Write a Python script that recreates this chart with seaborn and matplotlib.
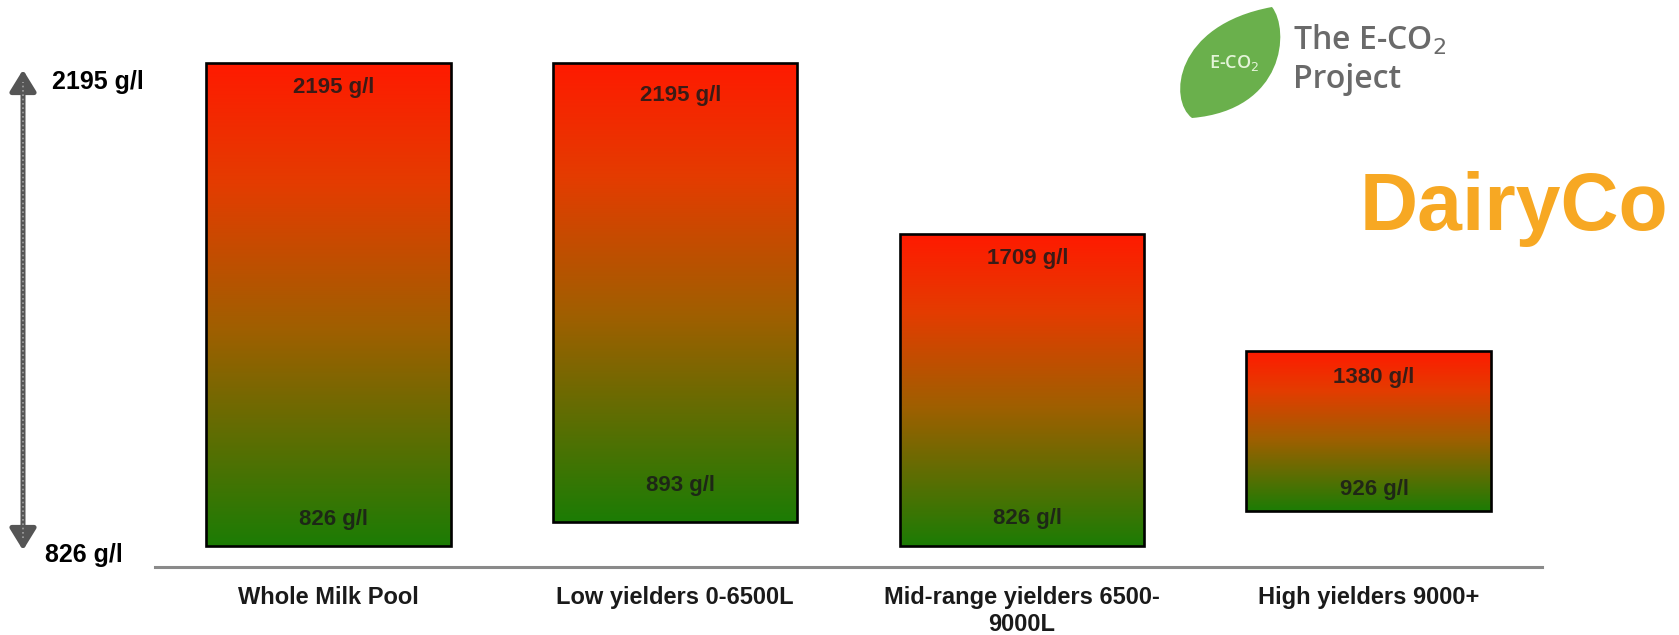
import numpy as np
import pandas as pd
import matplotlib
matplotlib.use("Agg")
import matplotlib.pyplot as plt
import seaborn as sns
from matplotlib.colors import LinearSegmentedColormap
from matplotlib.patches import FancyArrowPatch, PathPatch
from matplotlib.path import Path
from matplotlib.lines import Line2D

# ---------------- data ----------------
categories = ["Whole Milk Pool", "Low yielders 0-6500L",
              "Mid-range yielders 6500-\n9000L", "High yielders 9000+"]
high_values = [2195, 2195, 1709, 1380]
low_values = [826, 893, 826, 926]
unit = "g/l"
axis_top_label = "2195 g/l"
axis_bottom_label = "826 g/l"

# ---------------- style ----------------
sns.set_style("white")
plt.rcParams["font.family"] = ["Liberation Sans", "DejaVu Sans"]

W, H = 1679, 635
fig = plt.figure(figsize=(W / 100, H / 100), dpi=100)
fig.patch.set_facecolor("white")
ax = fig.add_axes([155 / W, 1 - 567 / H, 1387 / W, (567 - 43.6) / H])

df = pd.DataFrame({"category": categories, "high": high_values, "low": low_values})
sns.barplot(data=df, x="category", y="high", order=categories, width=0.705,
            color="white", edgecolor="black", linewidth=1.9, errorbar=None,
            ax=ax)

cmap = LinearSegmentedColormap.from_list(
    "rg", [(0.0, "#1c7c05"), (0.45, "#a05f00"), (0.75, "#e43c00"),
           (1.0, "#ff1a00")])
grad = np.linspace(0, 1, 256).reshape(-1, 1)

top_off = [30, 38, 30, 32]   # label baseline offsets (px)
bot_off = [21, 31, 22, 16]

for i, (patch, lo, hi) in enumerate(zip(ax.patches, low_values, high_values)):
    patch.set_y(lo)
    patch.set_height(hi - lo)
    patch.set_facecolor("none")
    patch.set_zorder(3)
    x0 = patch.get_x()
    w = patch.get_width()
    im = ax.imshow(grad, extent=(x0, x0 + w, lo, hi), origin="lower",
                   cmap=cmap, aspect="auto", zorder=2, interpolation="bicubic")
    im.set_clip_path(patch)
    xc = x0 + w / 2
    ax.annotate(f"{hi} {unit}", xy=(xc, hi), xytext=(4, -top_off[i] * 0.72),
                textcoords="offset points", ha="center", va="baseline",
                fontsize=16, fontweight="bold", color="#1a1a1a", alpha=0.85,
                zorder=4)
    ax.annotate(f"{lo} {unit}", xy=(xc, lo), xytext=(4, bot_off[i] * 0.72),
                textcoords="offset points", ha="center", va="baseline",
                fontsize=16, fontweight="bold", color="#1a1a1a", alpha=0.85,
                zorder=4)

ax.set_xlim(-0.5, 3.5)
ax.set_ylim(766.5, 2250)

for s in ["left", "top", "right"]:
    ax.spines[s].set_visible(False)
ax.spines["bottom"].set_color("#8a8a8a")
ax.spines["bottom"].set_linewidth(2.2)
ax.set_yticks([])
ax.set_xticks(range(len(categories)))
ax.set_xticklabels(categories)
ax.set_xticks(np.arange(-0.5, len(categories), 1), minor=True)
ax.tick_params(axis="x", which="major", length=0, pad=14, labelsize=17,
               labelcolor="#1a1a1a")
ax.tick_params(axis="x", which="minor", length=5, width=2, color="#8a8a8a",
               direction="out")
for lab in ax.get_xticklabels():
    lab.set_fontweight("bold")
ax.set_xlabel("")
ax.set_ylabel("")

# ---------------- left double arrow + labels ----------------
ax_x = 23 / W
arrow = FancyArrowPatch(posA=(ax_x, 1 - 553 / H), posB=(ax_x, 1 - 67 / H),
                        transform=fig.transFigure,
                        arrowstyle="<|-|>,head_length=0.65,head_width=0.4",
                        mutation_scale=20, color="#555555", lw=3.6)
fig.add_artist(arrow)
fig.add_artist(Line2D([ax_x, ax_x], [1 - 538 / H, 1 - 82 / H],
                      transform=fig.transFigure, color="#a0a0a0", lw=1.2,
                      ls=(0, (1, 1.6))))
fig.text(52 / W, 1 - 89 / H, axis_top_label, fontsize=18, fontweight="bold",
         va="baseline", ha="left", color="black")
fig.text(45 / W, 1 - 562 / H, axis_bottom_label, fontsize=18, fontweight="bold",
         va="baseline", ha="left", color="black")

# ---------------- logos ----------------
def px(x, y):
    return (x / 100, (H - y) / 100)

verts = [px(1192, 118), px(1168, 100), px(1174, 25), px(1272, 7),
         px(1290, 30), px(1285, 110), px(1192, 118)]
codes = [Path.MOVETO, Path.CURVE4, Path.CURVE4, Path.CURVE4,
         Path.CURVE4, Path.CURVE4, Path.CURVE4]
leaf = PathPatch(Path(verts, codes), facecolor="#6ab04c", edgecolor="none",
                 transform=fig.dpi_scale_trans)
fig.add_artist(leaf)
fig.text(1234 / W, 1 - 63 / H, r"E-CO$_2$", fontsize=13, color="#e4f4d8",
         ha="center", va="center", family=["Open Sans", "DejaVu Sans"],
         fontweight="semibold")
fig.text(1293 / W, 1 - 50 / H, r"The E-CO$_2$", fontsize=23, color="#6a6a6a",
         ha="left", va="baseline", family=["Open Sans", "DejaVu Sans"],
         fontweight="semibold")
fig.text(1293 / W, 1 - 88 / H, "Project", fontsize=23, color="#6a6a6a",
         ha="left", va="baseline", family=["Open Sans", "DejaVu Sans"],
         fontweight="semibold")
fig.text(1668 / W, 1 - 230 / H, "DairyCo", fontsize=58, color="#f7a823",
         ha="right", va="baseline", fontweight="bold")

fig.savefig("out.png", dpi=100, facecolor="white")
